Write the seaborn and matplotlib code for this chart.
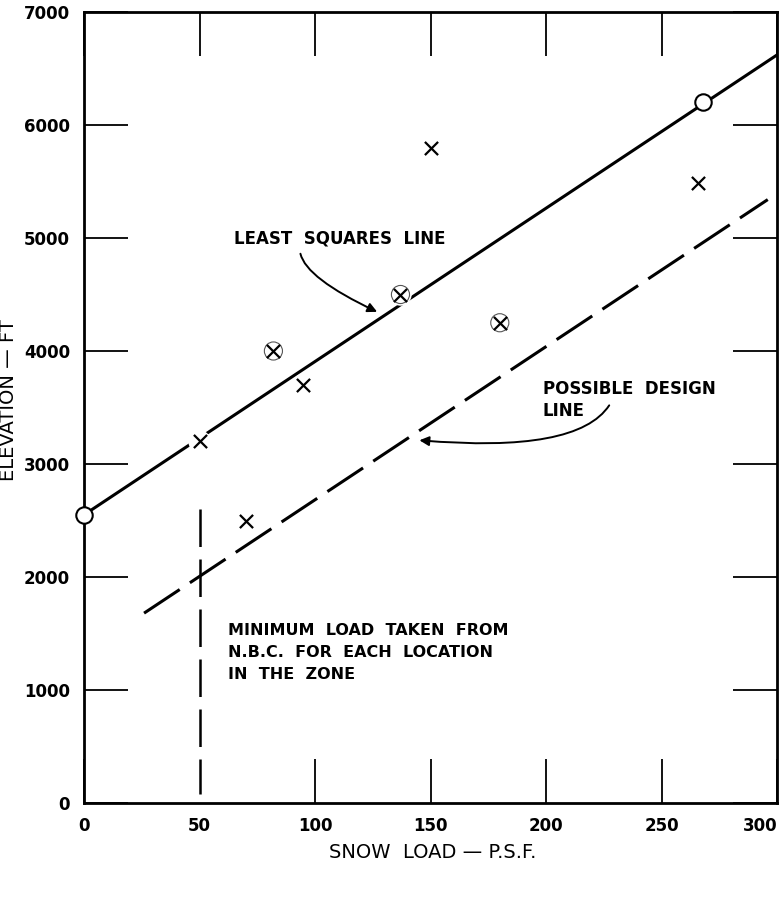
import seaborn as sns
import pandas as pd
import numpy as np
import matplotlib
matplotlib.use("Agg")
import matplotlib.pyplot as plt

# observed stations (snow load psf, elevation ft)
cross_load = [50, 70, 95, 82, 137, 150, 180, 266]
cross_elev = [3200, 2500, 3700, 4000, 4500, 5800, 4250, 5490]
circled = [False, False, False, True, True, False, True, False]
open_load = [0, 268]
open_elev = [2550, 6200]

# least squares line and possible design line end points
ls_load = [0, 300]
ls_elev = [2550, 6620]
design_load = [26, 296]
design_elev = [1680, 5340]
nbc_load = [50, 50]
nbc_elev = [2600, 80]

xticks = [0, 50, 100, 150, 200, 250, 300]
yticks = [0, 1000, 2000, 3000, 4000, 5000, 6000, 7000]

df_x = pd.DataFrame({"load": cross_load, "elev": cross_elev, "circled": circled})
df_o = pd.DataFrame({"load": open_load, "elev": open_elev})
df_ls = pd.DataFrame({"load": ls_load, "elev": ls_elev})
df_d = pd.DataFrame({"load": design_load, "elev": design_elev})
df_n = pd.DataFrame({"load": nbc_load, "elev": nbc_elev})

sns.set_theme(style="white")
plt.rcParams["font.family"] = ["DejaVu Sans"]

fig = plt.figure(figsize=(7.83, 9.09), dpi=100)
ax = fig.add_axes([84 / 783, 106 / 909, 693 / 783, 791 / 909])

# lines
sns.lineplot(data=df_ls, x="load", y="elev", color="black", linewidth=2.2, ax=ax,
             zorder=2, estimator=None, sort=False)
sns.lineplot(data=df_d, x="load", y="elev", color="black", linewidth=2.2, ax=ax,
             zorder=2, estimator=None, sort=False)
ax.lines[-1].set_dashes([14, 4])
sns.lineplot(data=df_n, x="load", y="elev", color="black", linewidth=1.8, ax=ax,
             zorder=2, estimator=None, sort=False)
ax.lines[-1].set_dashes([15, 5])

# white halos that break the line around the markers
sns.scatterplot(data=df_x, x="load", y="elev", marker="o", s=260, color="white",
                edgecolor="none", ax=ax, zorder=3)
sns.scatterplot(data=df_x[df_x["circled"]], x="load", y="elev", marker="o", s=170,
                facecolor="none", edgecolor="#555555", linewidth=0.8, ax=ax, zorder=4)
sns.scatterplot(data=df_x, x="load", y="elev", marker="x", s=90, color="black",
                linewidth=1.6, ax=ax, zorder=5)
sns.scatterplot(data=df_o, x="load", y="elev", marker="o", s=140, facecolor="white",
                edgecolor="black", linewidth=1.5, ax=ax, zorder=5, clip_on=False)

ax.set_xlim(0, 300)
ax.set_ylim(0, 7000)
ax.set_xticks(xticks)
ax.set_yticks(yticks)
ax.set_xticklabels([str(v) for v in xticks])
ax.set_yticklabels([str(v) for v in yticks])
ax.tick_params(direction="in", length=32, width=1.3, color="black",
               top=True, right=True, bottom=True, left=True,
               labelsize=12, labelcolor="black", pad=10)
for lab in ax.get_xticklabels() + ax.get_yticklabels():
    lab.set_fontweight("bold")
ax.get_xticklabels()[-1].set_ha("right")
ax.xaxis.get_major_ticks()[1].tick1line.set_visible(False)
for s in ax.spines.values():
    s.set_linewidth(2.0)
    s.set_color("black")
ax.set_xlabel("")
ax.set_ylabel("")

fig.text(433 / 783, 1 - 852 / 909, "SNOW  LOAD — P.S.F.", ha="center", va="center",
         fontsize=14, color="black")
fig.text(9 / 783, 1 - 400 / 909, "ELEVATION — FT", ha="center", va="center",
         rotation=90, fontsize=14, color="black")

txt = dict(fontweight="bold", color="black")
ax.text(65, 5000, "LEAST  SQUARES  LINE", ha="left", va="center", fontsize=12, **txt)
ax.text(198.5, 3565, "POSSIBLE  DESIGN\nLINE", ha="left", va="center",
        fontsize=12, linespacing=1.3, **txt)
ax.text(62.5, 1330, "MINIMUM  LOAD  TAKEN  FROM\nN.B.C.  FOR  EACH  LOCATION\nIN  THE  ZONE",
        ha="left", va="center", fontsize=11.5, linespacing=1.6, **txt)

ax.annotate("", xy=(128, 4336), xytext=(93.5, 4885),
            arrowprops=dict(arrowstyle="-|>", color="black", lw=1.4,
                            connectionstyle="angle3,angleA=-85,angleB=-25",
                            mutation_scale=14))
ax.annotate("", xy=(144, 3212), xytext=(228, 3540),
            arrowprops=dict(arrowstyle="-|>", color="black", lw=1.4,
                            connectionstyle="angle3,angleA=60,angleB=-5",
                            mutation_scale=14))

fig.savefig("out.png", dpi=100)
